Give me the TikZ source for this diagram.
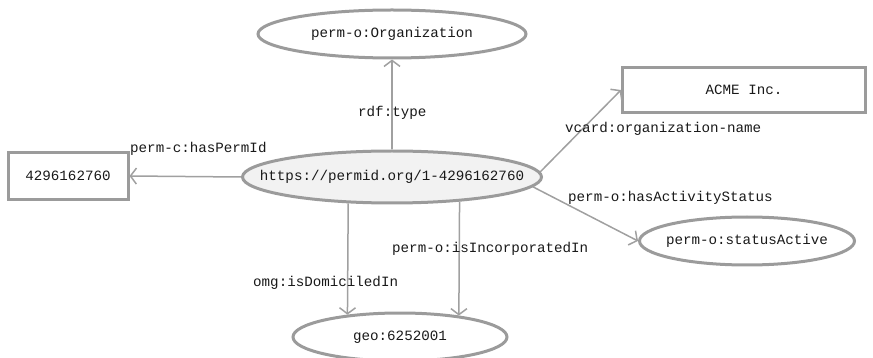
\documentclass[tikz,border=0pt]{standalone}
\usepackage{fontspec}
\setmonofont{Liberation Mono}
\definecolor{edgegray}{RGB}{160, 160, 160}
\definecolor{bordergray}{RGB}{155, 155, 155}
\definecolor{subjfill}{RGB}{242, 242, 242}
\definecolor{textdark}{RGB}{25, 25, 25}
\usetikzlibrary{shapes.geometric, arrows.meta}
% text that does not widen the ellipse
\newcommand{\rtext}[1]{\makebox[0pt][c]{#1}}

\begin{document}
\begin{tikzpicture}[x=1pt, y=-1pt,
  every node/.style={font=\ttfamily\fontsize{14.2}{16}\selectfont, text=textdark},
  resource/.style={ellipse, draw=bordergray, line width=3pt, inner sep=0pt},
  literal/.style={rectangle, draw=bordergray, line width=3pt, inner sep=0pt},
  relation/.style={draw=edgegray, line width=1.5pt, -{Straight Barb[length=6pt, width=16pt]}},
  prop/.style={anchor=base west, inner sep=0pt}]
  \useasboundingbox (0,0) rectangle (873,358);

  % Nodes
  \node[resource, fill=subjfill, minimum width=299pt, minimum height=52pt] (subject) at (392, 177) {\rtext{https://permid.org/1-4296162760}};
  \node[resource, minimum width=268pt, minimum height=48pt] (orgclass) at (392, 34) {\rtext{perm-o:Organization}};
  \node[literal, minimum width=120pt, minimum height=47pt] (permid) at (68, 176) {4296162760};
  \node[literal, minimum width=243pt, minimum height=45pt] (orgname) at (744, 90) {ACME Inc.};
  \node[resource, minimum width=215pt, minimum height=48pt] (status) at (747, 241) {\rtext{perm-o:statusActive}};
  \node[resource, minimum width=214pt, minimum height=48pt] (country) at (400, 337) {\rtext{geo:6252001}};

  % Relations
  \draw[relation] (subject.north) -- (orgclass.south);
  \draw[relation] (subject.west) -- (permid.east);
  \draw[relation] (subject.2) -- (orgname.west);
  \draw[relation] (subject.-4) -- (status.west);
  \draw[relation] (subject.211) -- (country.157);
  \draw[relation] (subject.-20) -- (country.20);

  % Property labels
  \node[prop] (lbltype) at (358, 117) {rdf:type};
  \node[prop] (lblpermid) at (130, 153) {perm-c:hasPermId};
  \node[prop] (lblname) at (565, 133) {vcard:organization-name};
  \node[prop] (lblstatus) at (568, 202) {perm-o:hasActivityStatus};
  \node[prop] (lblincorp) at (392, 253) {perm-o:isIncorporatedIn};
  \node[prop] (lbldomicile) at (253, 287) {omg:isDomiciledIn};
\end{tikzpicture}
\end{document}
